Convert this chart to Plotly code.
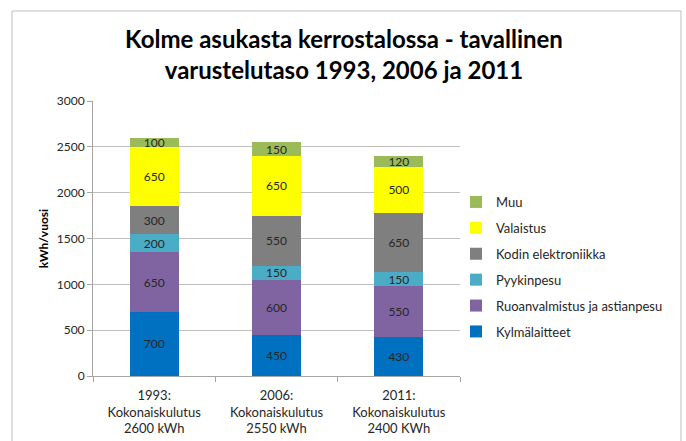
import plotly.graph_objects as go

categories = ["1993:<br>Kokonaiskulutus<br>2600 kWh",
              "2006:<br>Kokonaiskulutus<br>2550 kWh",
              "2011:<br>Kokonaiskulutus<br>2400 KWh"]
kylmalaitteet = [700, 450, 430]
ruoanvalmistus = [650, 600, 550]
pyykinpesu = [200, 150, 150]
kodin_elektroniikka = [300, 550, 650]
valaistus = [650, 650, 500]
muu = [100, 150, 120]
y_ticks = [0, 500, 1000, 1500, 2000, 2500, 3000]

series = [
    ("Kylmälaitteet", kylmalaitteet, "#0070C0"),
    ("Ruoanvalmistus ja astianpesu", ruoanvalmistus, "#8064A2"),
    ("Pyykinpesu", pyykinpesu, "#4BACC6"),
    ("Kodin elektroniikka", kodin_elektroniikka, "#7F7F7F"),
    ("Valaistus", valaistus, "#FFFF00"),
    ("Muu", muu, "#9BBB59"),
]

FONT = "Lato, Carlito, Calibri, sans-serif"
fig = go.Figure()
n = len(series)
for i, (name, vals, col) in enumerate(series):
    fig.add_trace(go.Bar(
        x=categories, y=vals, name=name, legendgroup=name, legendrank=n - i,
        marker=dict(color=col, line=dict(width=0)),
        text=[str(v) for v in vals], textposition="inside",
        insidetextanchor="middle", textangle=0,
        textfont=dict(family=FONT, size=12, color="#262626"),
        cliponaxis=False,
    ))

L, R, T, B = 93, 226, 101, 65
W, H = 686 - L - R, 441 - T - B

def px_x(x):
    return (x - L) / W

def px_y(y):
    return (441 - B - y) / H

fig.update_layout(
    width=686, height=441,
    margin=dict(l=L, r=R, t=T, b=B, autoexpand=False),
    barmode="stack", bargap=0.6,
    paper_bgcolor="white", plot_bgcolor="white",
    font=dict(family=FONT, size=11, color="#404040"),
    uniformtext=dict(minsize=12, mode="show"),
    title=dict(text="<b>Kolme asukasta kerrostalossa - tavallinen<br>varustelutaso 1993, 2006 ja 2011</b>",
               font=dict(family=FONT, size=24, color="#000000"),
               xref="paper", x=px_x(344), xanchor="center",
               yref="container", y=1 - 48 / 441, yanchor="middle"),
    showlegend=True,
    legend=dict(traceorder="grouped", tracegroupgap=6,
                x=px_x(456), y=px_y(187), xanchor="left", yanchor="top",
                font=dict(family=FONT, size=13, color="#262626"),
                itemwidth=30, bgcolor="rgba(0,0,0,0)"),
    xaxis=dict(type="category", showline=True, linecolor="#A6A6A6", linewidth=1,
               ticks="outside", tickson="boundaries", ticklen=5, tickcolor="#A6A6A6",
               automargin=False, ticklabelstandoff=7,
               tickfont=dict(family=FONT, size=13, color="#262626"), showgrid=False),
    yaxis=dict(range=[0, 3000], tickvals=y_ticks, showline=True, linecolor="#A6A6A6",
               ticks="outside", ticklen=5, tickcolor="#A6A6A6", automargin=False,
               showgrid=True, gridcolor="#BFBFBF", gridwidth=1,
               tickfont=dict(family=FONT, size=12, color="#262626"),
               title=dict(text="<b>kWh/vuosi</b>", font=dict(family=FONT, size=12, color="#000000"),
                          standoff=5),
               zeroline=False),
)

fig.add_shape(type="rect", xref="paper", yref="paper",
              x0=px_x(12), x1=px_x(681), y0=px_y(446), y1=px_y(11),
              line=dict(color="#BFBFBF", width=1), fillcolor="rgba(0,0,0,0)", layer="below")

fig.write_html("out.html", config={"displayModeBar": False},
               post_script="document.body.style.margin='0';document.body.style.padding='0';")
